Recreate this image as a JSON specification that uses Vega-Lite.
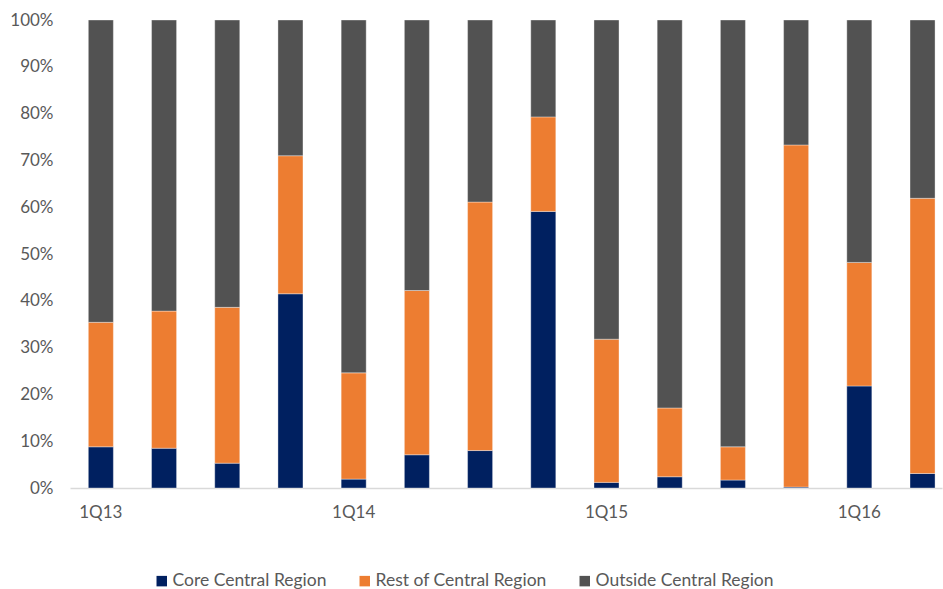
{
  "$schema": "https://vega.github.io/schema/vega-lite/v6.json",
  "autosize": "none",
  "width": 872,
  "height": 468,
  "padding": {"left": 70, "top": 20, "right": 1, "bottom": 101},
  "background": "#ffffff",
  "config": {
    "view": {"stroke": null},
    "font": "Lato",
    "axis": {"labelFont": "Lato", "labelColor": "#595959", "labelFontSize": 17, "ticks": false, "grid": false, "title": null, "labelOverlap": false}
  },
  "data": {
    "values": [
      {"quarter": "1Q13", "region": "Core Central Region", "share": 0.088},
      {"quarter": "1Q13", "region": "Rest of Central Region", "share": 0.266},
      {"quarter": "1Q13", "region": "Outside Central Region", "share": 0.646},
      {"quarter": "2Q13", "region": "Core Central Region", "share": 0.085},
      {"quarter": "2Q13", "region": "Rest of Central Region", "share": 0.293},
      {"quarter": "2Q13", "region": "Outside Central Region", "share": 0.622},
      {"quarter": "3Q13", "region": "Core Central Region", "share": 0.053},
      {"quarter": "3Q13", "region": "Rest of Central Region", "share": 0.333},
      {"quarter": "3Q13", "region": "Outside Central Region", "share": 0.614},
      {"quarter": "4Q13", "region": "Core Central Region", "share": 0.415},
      {"quarter": "4Q13", "region": "Rest of Central Region", "share": 0.295},
      {"quarter": "4Q13", "region": "Outside Central Region", "share": 0.290},
      {"quarter": "1Q14", "region": "Core Central Region", "share": 0.019},
      {"quarter": "1Q14", "region": "Rest of Central Region", "share": 0.227},
      {"quarter": "1Q14", "region": "Outside Central Region", "share": 0.754},
      {"quarter": "2Q14", "region": "Core Central Region", "share": 0.071},
      {"quarter": "2Q14", "region": "Rest of Central Region", "share": 0.351},
      {"quarter": "2Q14", "region": "Outside Central Region", "share": 0.578},
      {"quarter": "3Q14", "region": "Core Central Region", "share": 0.080},
      {"quarter": "3Q14", "region": "Rest of Central Region", "share": 0.531},
      {"quarter": "3Q14", "region": "Outside Central Region", "share": 0.389},
      {"quarter": "4Q14", "region": "Core Central Region", "share": 0.591},
      {"quarter": "4Q14", "region": "Rest of Central Region", "share": 0.202},
      {"quarter": "4Q14", "region": "Outside Central Region", "share": 0.207},
      {"quarter": "1Q15", "region": "Core Central Region", "share": 0.012},
      {"quarter": "1Q15", "region": "Rest of Central Region", "share": 0.306},
      {"quarter": "1Q15", "region": "Outside Central Region", "share": 0.682},
      {"quarter": "2Q15", "region": "Core Central Region", "share": 0.024},
      {"quarter": "2Q15", "region": "Rest of Central Region", "share": 0.147},
      {"quarter": "2Q15", "region": "Outside Central Region", "share": 0.829},
      {"quarter": "3Q15", "region": "Core Central Region", "share": 0.017},
      {"quarter": "3Q15", "region": "Rest of Central Region", "share": 0.071},
      {"quarter": "3Q15", "region": "Outside Central Region", "share": 0.912},
      {"quarter": "4Q15", "region": "Core Central Region", "share": 0.002},
      {"quarter": "4Q15", "region": "Rest of Central Region", "share": 0.731},
      {"quarter": "4Q15", "region": "Outside Central Region", "share": 0.267},
      {"quarter": "1Q16", "region": "Core Central Region", "share": 0.218},
      {"quarter": "1Q16", "region": "Rest of Central Region", "share": 0.264},
      {"quarter": "1Q16", "region": "Outside Central Region", "share": 0.518},
      {"quarter": "2Q16", "region": "Core Central Region", "share": 0.031},
      {"quarter": "2Q16", "region": "Rest of Central Region", "share": 0.588},
      {"quarter": "2Q16", "region": "Outside Central Region", "share": 0.381}
    ]
  },
  "transform": [
    {"calculate": "indexof(['Core Central Region', 'Rest of Central Region', 'Outside Central Region'], datum.region)", "as": "stackOrder"}
  ],
  "mark": {"type": "bar", "stroke": "#ffffff", "strokeWidth": 0.6, "strokeOpacity": 0.6},
  "encoding": {
    "x": {
      "field": "quarter",
      "type": "ordinal",
      "sort": null,
      "scale": {"paddingInner": 0.604, "paddingOuter": 0.2, "align": 0.725},
      "axis": {
        "values": ["1Q13", "1Q14", "1Q15", "1Q16"],
        "labelAngle": 0,
        "labelPadding": 16,
        "domain": true,
        "domainColor": "#d9d9d9",
        "domainWidth": 1.5
      }
    },
    "y": {
      "field": "share",
      "type": "quantitative",
      "stack": "zero",
      "scale": {"domain": [0, 1], "nice": false},
      "axis": {
        "format": ".0%",
        "values": [0, 0.1, 0.2, 0.3, 0.4, 0.5, 0.6, 0.7, 0.8, 0.9, 1],
        "domain": false,
        "labelPadding": 17
      }
    },
    "color": {
      "field": "region",
      "type": "nominal",
      "sort": ["Core Central Region", "Rest of Central Region", "Outside Central Region"],
      "scale": {
        "domain": ["Core Central Region", "Rest of Central Region", "Outside Central Region"],
        "range": ["#002060", "#ED7D31", "#525252"]
      },
      "legend": {
        "title": null,
        "orient": "none",
        "direction": "horizontal",
        "legendX": 83,
        "legendY": 552,
        "symbolType": "square",
        "symbolSize": 110,
        "symbolStrokeWidth": 0,
        "labelFont": "Lato",
        "labelFontSize": 17.5,
        "labelColor": "#595959",
        "labelOffset": 2,
        "labelLimit": 400,
        "columnPadding": 29
      }
    },
    "order": {"field": "stackOrder", "type": "quantitative", "sort": "ascending"}
  }
}
